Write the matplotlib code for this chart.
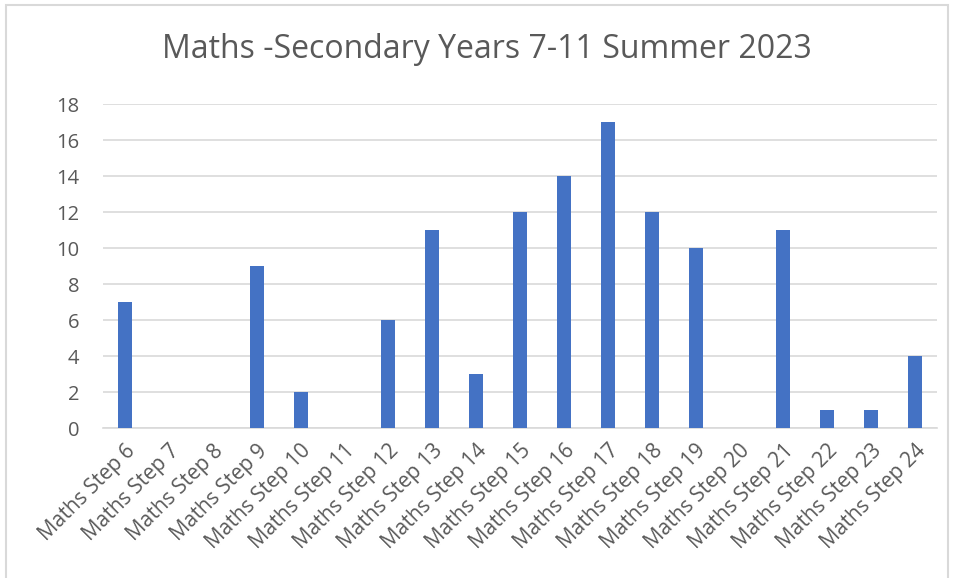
import matplotlib
matplotlib.use("Agg")
import matplotlib.pyplot as plt
from matplotlib.patches import Rectangle

steps = [f"Maths Step {n}" for n in range(6, 25)]
counts = [7, 0, 0, 9, 2, 0, 6, 11, 3, 12, 14, 17, 12, 10, 0, 11, 1, 1, 4]
y_ticks = list(range(0, 19, 2))

TEXT = "#595959"
GRID = "#d9d9d9"
BAR = "#4472c4"

plt.rcParams["font.family"] = ["Open Sans", "DejaVu Sans"]

fig = plt.figure(figsize=(9.57, 5.78), dpi=100)
ax = fig.add_axes([103 / 957, 1 - 428 / 578, (937 - 103) / 957, (428 - 104) / 578])

x = range(len(steps))
ax.bar(x, counts, width=0.32, color=BAR, zorder=3)

ax.set_xlim(-0.5, len(steps) - 0.5)
ax.set_ylim(0, 18)
ax.set_yticks(y_ticks)
ax.set_xticks(list(x))
ax.set_xticklabels(steps, rotation=45, ha="right", rotation_mode="anchor")
ax.tick_params(axis="x", length=0, colors=TEXT, labelsize=15, pad=9)
ax.tick_params(axis="y", length=0, colors=TEXT, labelsize=14.5, pad=17)
ax.grid(axis="y", color=GRID, linewidth=1.2, zorder=0)
for side in ["top", "right", "left"]:
    ax.spines[side].set_visible(False)
ax.spines["bottom"].set_color(GRID)
ax.spines["bottom"].set_linewidth(1.2)

fig.text(487 / 957, 1 - 49 / 578, "Maths -Secondary Years 7-11 Summer 2023",
         ha="center", va="center", fontsize=23, color=TEXT)

fig.patches.append(Rectangle((6 / 957, -0.01), (948 - 6) / 957, 1 - 5 / 578 + 0.01,
                             transform=fig.transFigure, fill=False,
                             edgecolor="#d9d9d9", linewidth=1.5))

fig.savefig("out.png", dpi=100)
